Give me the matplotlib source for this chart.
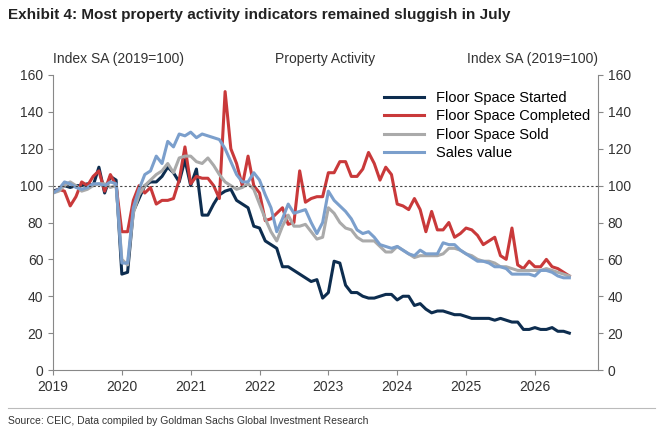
import numpy as np
import matplotlib.pyplot as plt

plt.rcParams['font.family'] = ['Liberation Sans', 'DejaVu Sans']

started = (
    [97, 98, 100, 99, 100, 100, 101, 100, 110, 96, 105, 103]
    + [52, 53, 86, 93, 100, 102, 102, 105, 110, 107, 102, 114]
    + [100, 109, 84, 84, 90, 95, 97, 98, 92, 90, 88, 78]
    + [77, 70, 68, 66, 56, 56, 54, 52, 50, 48, 49, 39]
    + [42, 59, 58, 46, 42, 42, 40, 39, 39, 40, 41, 41]
    + [38, 40, 40, 35, 36, 33, 31, 32, 32, 31, 30, 30]
    + [29, 28, 28, 28, 28, 27, 28, 27, 26, 26, 22, 22]
    + [23, 22, 22, 23, 21, 21, 20]
)
completed = (
    [96, 98, 97, 89, 94, 102, 100, 105, 108, 97, 106, 100]
    + [75, 75, 92, 100, 96, 99, 90, 92, 92, 93, 103, 121]
    + [101, 105, 104, 104, 100, 93, 151, 120, 112, 100, 116, 100]
    + [96, 81, 82, 85, 88, 79, 80, 108, 91, 93, 94, 94]
    + [107, 107, 113, 113, 105, 105, 109, 118, 112, 103, 110, 106]
    + [90, 89, 87, 93, 87, 75, 86, 76, 76, 80, 72, 74]
    + [77, 76, 73, 68, 70, 72, 62, 60, 77, 57, 55, 59]
    + [56, 56, 60, 56, 55, 53, 51]
)
sold = (
    [96, 97, 100, 102, 100, 97, 98, 100, 101, 101, 99, 100]
    + [60, 57, 85, 95, 100, 103, 106, 108, 112, 107, 115, 116]
    + [116, 113, 112, 115, 111, 106, 102, 100, 98, 99, 101, 98]
    + [90, 82, 75, 70, 78, 84, 78, 78, 79, 75, 71, 72]
    + [88, 85, 80, 77, 76, 72, 70, 70, 70, 67, 64, 64]
    + [67, 65, 63, 61, 62, 62, 62, 62, 63, 66, 66, 65]
    + [63, 62, 60, 59, 59, 58, 56, 56, 55, 54, 54, 54]
    + [54, 54, 55, 54, 53, 52, 51]
)
sales_value = (
    [96, 98, 102, 101, 99, 98, 99, 101, 101, 100, 102, 101]
    + [58, 58, 88, 98, 106, 108, 116, 112, 124, 121, 128, 127]
    + [129, 126, 128, 127, 126, 125, 120, 113, 106, 102, 102, 107]
    + [103, 95, 88, 75, 82, 90, 85, 86, 87, 80, 74, 80]
    + [97, 92, 89, 86, 82, 76, 74, 75, 72, 68, 67, 66]
    + [67, 65, 63, 62, 65, 63, 63, 63, 69, 68, 68, 65]
    + [63, 61, 59, 59, 58, 56, 56, 55, 52, 52, 52, 52]
    + [51, 54, 54, 53, 51, 50, 50]
)

t = 2019 + np.arange(len(started)) / 12

fig = plt.figure(figsize=(6.63, 4.32), dpi=100)
ax = fig.add_axes([53 / 663, 62 / 432, 545 / 663, 295 / 432])

ax.plot(t, started, color='#0d2d4f', lw=2.2, label='Floor Space Started')
ax.plot(t, completed, color='#c9393a', lw=2.2, label='Floor Space Completed')
ax.plot(t, sold, color='#aaaaaa', lw=2.2, label='Floor Space Sold')
ax.plot(t, sales_value, color='#7b9fcc', lw=2.2, label='Sales value')
ax.axhline(100, color='#444444', lw=0.8, ls=(0, (2, 2)))

ax.set_xlim(2019, 2026 + 11 / 12)
ax.set_ylim(0, 160)
ax.set_xticks(range(2019, 2027))
ax.set_yticks(range(0, 161, 20))
ax.spines['top'].set_visible(False)
for s in ['left', 'right', 'bottom']:
    ax.spines[s].set_color('#888888')
ax.tick_params(colors='#888888', labelcolor='#333333', labelsize=10, direction='out')
ax.tick_params(axis='y', which='both', right=True, labelright=True)

ax.text(0, 1.03, 'Index SA (2019=100)', transform=ax.transAxes, fontsize=10, color='#333333', ha='left', va='bottom')
ax.text(1, 1.03, 'Index SA (2019=100)', transform=ax.transAxes, fontsize=10, color='#333333', ha='right', va='bottom')
ax.text(0.5, 1.03, 'Property Activity', transform=ax.transAxes, fontsize=10, color='#333333', ha='center', va='bottom')

ax.legend(loc='upper right', bbox_to_anchor=(1.01, 0.99), frameon=False, fontsize=10.5,
          handlelength=2.8, labelspacing=0.3)

fig.text(0.012, 0.955, 'Exhibit 4: Most property activity indicators remained sluggish in July',
         fontsize=11, fontweight='bold', color='#222222')
fig.add_artist(plt.Line2D([0.012, 0.988], [0.055, 0.055], color='#bbbbbb', lw=0.8))
fig.text(0.012, 0.018, 'Source: CEIC, Data compiled by Goldman Sachs Global Investment Research',
         fontsize=7.5, color='#333333')

fig.savefig('out.png', dpi=100)
